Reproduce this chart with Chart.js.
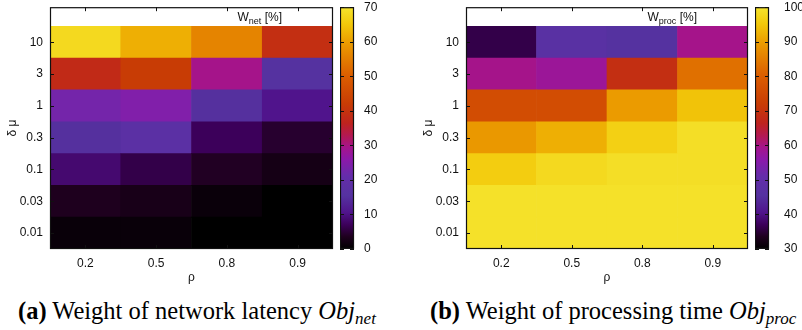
<!DOCTYPE html>
<html>
<head>
<meta charset="utf-8">
<script src="https://cdn.jsdelivr.net/npm/chart.js@4/dist/chart.umd.min.js"></script>
<style>
  body { margin: 0; background: #fff; width: 802px; height: 330px; position: relative; overflow: hidden; }
  .box { position: absolute; }
  .cap { position: absolute; top: 297px; font-family: "Liberation Serif", serif; font-size: 24.5px; white-space: nowrap; color: #000; }
  .cap i { font-style: italic; }
  .cap sub { font-size: 17px; font-style: italic; vertical-align: -5px; line-height: 0; }
</style>
</head>
<body>
<div class="box" style="left:0;top:-7px;width:345px;height:297px"><canvas id="netMap"></canvas></div>
<div class="box" style="left:340px;top:-10px;width:62px;height:276px"><canvas id="netBar"></canvas></div>
<div class="box" style="left:416px;top:-7px;width:344px;height:297px"><canvas id="procMap"></canvas></div>
<div class="box" style="left:755px;top:-15px;width:47px;height:286px"><canvas id="procBar"></canvas></div>
<div class="cap" style="left:18px"><b>(a)</b> Weight of network latency <i>Obj</i><sub>net</sub></div>
<div class="cap" style="left:430px"><b>(b)</b> Weight of processing time <i>Obj</i><sub>proc</sub></div>
<script>
const rho = ['0.2', '0.5', '0.8', '0.9'];
const deltaMu = ['0.01', '0.03', '0.1', '0.3', '1', '3', '10'];

// one row per delta mu (bottom to top), one value per rho
const wNet = [
  [1, 1, 0, 0],
  [3.5, 2.8, 1.2, 0],
  [8.5, 6, 3.8, 2.5],
  [15, 17.5, 7, 4.5],
  [23, 24.5, 15, 10.5],
  [38, 42, 29.5, 15.5],
  [68, 62, 56, 39]
];
const wProc = [
  [99.5, 99.5, 99.5, 99.5],
  [99.5, 99.5, 99.5, 99.5],
  [96, 98, 99, 99],
  [89, 92, 96.5, 99],
  [76, 76, 89.5, 94.5],
  [59.5, 58, 69, 83],
  [36, 47, 45.5, 59.5]
];
const netRange = [0, 70];
const procRange = [30, 100];

// palette stops: fraction, r, g, b
const stops = [
  [0.00, 0, 0, 0],
  [0.05, 30, 0, 30],
  [0.10, 60, 0, 90],
  [0.15, 80, 20, 140],
  [0.22, 85, 50, 160],
  [0.30, 100, 45, 170],
  [0.37, 140, 25, 170],
  [0.42, 165, 20, 140],
  [0.47, 180, 25, 80],
  [0.52, 190, 35, 30],
  [0.60, 200, 60, 5],
  [0.72, 220, 95, 0],
  [0.85, 235, 155, 0],
  [0.93, 242, 200, 10],
  [1.00, 245, 228, 45]
];

function colorAt(f) {
  f = Math.max(0, Math.min(1, f));
  for (let i = 1; i < stops.length; i++) {
    if (f <= stops[i][0]) {
      const a = stops[i - 1], b = stops[i];
      const t = (f - a[0]) / (b[0] - a[0]);
      const c = [1, 2, 3].map(k => Math.round(a[k] + (b[k] - a[k]) * t));
      return 'rgb(' + c.join(',') + ')';
    }
  }
  return 'rgb(245,228,45)';
}

const font = { family: '"Liberation Sans", Arial, sans-serif', size: 12 };

const frame = {
  id: 'frame',
  afterDatasetsDraw(chart, args, opts) {
    const { ctx, chartArea: a, scales } = chart;
    ctx.save();
    ctx.strokeStyle = '#111';
    ctx.lineWidth = 1;
    ctx.beginPath();
    const t = 4;
    if (scales.x.options.display) {
      scales.x.ticks.forEach((tk, i) => {
        const x = Math.round(scales.x.getPixelForTick(i)) + 0.5;
        ctx.moveTo(x, a.bottom); ctx.lineTo(x, a.bottom - t);
        ctx.moveTo(x, a.top); ctx.lineTo(x, a.top + t);
      });
    }
    scales.y.ticks.forEach((tk, i) => {
      const y = Math.round(scales.y.getPixelForTick(i)) + 0.5;
      ctx.moveTo(a.left, y); ctx.lineTo(a.left + t, y);
      ctx.moveTo(a.right, y); ctx.lineTo(a.right - t, y);
    });
    ctx.stroke();
    ctx.lineWidth = 1.2;
    ctx.strokeRect(a.left + 0.5, a.top + 0.5, a.width - 1, a.height - 1);

    if (opts.sub) {
      const big = '12px "Liberation Sans", Arial, sans-serif';
      const small = '9px "Liberation Sans", Arial, sans-serif';
      ctx.fillStyle = '#111';
      ctx.textBaseline = 'alphabetic';
      ctx.font = big;
      const w1 = ctx.measureText('W').width;
      const w3 = ctx.measureText(' [%]').width;
      ctx.font = small;
      const w2 = ctx.measureText(opts.sub).width;
      let x = a.right - 51 - (w1 + w2 + w3);
      const y = a.top + 14;
      ctx.font = big; ctx.fillText('W', x, y); x += w1;
      ctx.font = small; ctx.fillText(opts.sub, x, y + 3); x += w2;
      ctx.font = big; ctx.fillText(' [%]', x, y);
    }
    ctx.restore();
  }
};

function makeMap(id, values, range, sub) {
  const [lo, hi] = range;
  new Chart(document.getElementById(id), {
    type: 'bar',
    data: {
      labels: rho,
      datasets: deltaMu.map((d, r) => ({
        label: d,
        data: values[r].map(() => [r - 0.5, r + 0.5]),
        backgroundColor: values[r].map(v => colorAt((v - lo) / (hi - lo))),
        borderWidth: 0,
        barPercentage: 1,
        categoryPercentage: 1,
        grouped: false
      }))
    },
    options: {
      animation: false,
      responsive: true,
      maintainAspectRatio: false,
      layout: { padding: { top: 0, right: 12, bottom: 0, left: 0 } },
      plugins: { legend: { display: false }, tooltip: { enabled: false }, frame: { sub: sub } },
      scales: {
        x: {
          type: 'category',
          grid: { display: false, drawTicks: false },
          border: { display: false },
          ticks: { font: font, color: '#111', padding: 7 },
          title: { display: true, text: 'ρ', font: font, color: '#111', padding: { top: 0, bottom: 5 } },
          afterFit: s => { s.height = 41; }
        },
        y: {
          type: 'linear',
          min: -0.5,
          max: 7.1,
          afterBuildTicks: s => { s.ticks = deltaMu.map((d, i) => ({ value: i })); },
          grid: { display: false, drawTicks: false },
          border: { display: false },
          ticks: { font: font, color: '#111', padding: 7, callback: v => deltaMu[v] },
          title: { display: true, text: 'δ μ', font: font, color: '#111', padding: { top: 5, bottom: 0 } },
          afterFit: s => { s.width = 50; }
        }
      }
    },
    plugins: [frame]
  });
}

function makeBar(id, range, width, pad) {
  const [lo, hi] = range;
  new Chart(document.getElementById(id), {
    type: 'bar',
    data: {
      labels: [''],
      datasets: [{
        data: [[lo, hi]],
        backgroundColor: c => {
          const a = c.chart.chartArea;
          if (!a) return 'rgb(0,0,0)';
          const g = c.chart.ctx.createLinearGradient(0, a.bottom, 0, a.top);
          stops.forEach(s => g.addColorStop(s[0], 'rgb(' + s[1] + ',' + s[2] + ',' + s[3] + ')'));
          return g;
        },
        borderWidth: 0,
        barPercentage: 1,
        categoryPercentage: 1
      }]
    },
    options: {
      animation: false,
      responsive: true,
      maintainAspectRatio: false,
      layout: { padding: 0 },
      plugins: { legend: { display: false }, tooltip: { enabled: false }, frame: {} },
      scales: {
        x: { display: false },
        y: {
          position: 'right',
          min: lo,
          max: hi,
          grid: { display: false, drawTicks: false },
          border: { display: false },
          ticks: { stepSize: 10, font: font, color: '#111', padding: pad },
          afterFit: s => { s.width = width; }
        }
      }
    },
    plugins: [frame]
  });
}

makeMap('netMap', wNet, netRange, 'net');
makeBar('netBar', netRange, 48, 10);
makeMap('procMap', wProc, procRange, 'proc');
makeBar('procBar', procRange, 33, 15);
</script>
</body>
</html>
